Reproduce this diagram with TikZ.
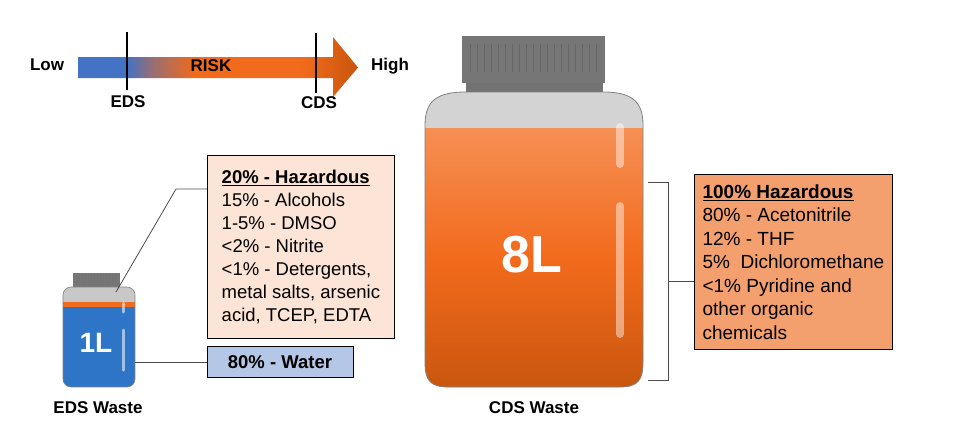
\documentclass[tikz,border=0pt]{standalone}
\usepackage{fontspec}
\setmainfont{Liberation Sans}
\usetikzlibrary{calc}
\definecolor{myblue}{HTML}{4472C4}
\definecolor{myorange}{HTML}{F26A1B}
\definecolor{darkor}{HTML}{C8560F}
\definecolor{lightpeach}{HTML}{FCE4D6}
\definecolor{waterblue}{HTML}{B4C7E7}
\definecolor{boxorange}{HTML}{F4A06E}
\definecolor{capgray}{HTML}{767676}
\definecolor{glass}{HTML}{C8C8C8}
\definecolor{liqblue}{HTML}{2E75C8}
\pgfdeclarehorizontalshading{riskshade}{100bp}{color(0bp)=(myblue); color(33.75bp)=(myblue); color(38.5bp)=(myblue!50!myorange); color(46bp)=(myorange); color(65bp)=(myorange); color(75bp)=(darkor); color(100bp)=(darkor)}
\tikzset{
  lbl/.style={font=\fontsize{17}{19}\selectfont\bfseries, inner sep=0},
  txtbox/.style={draw=black, line width=0.8pt, align=left, anchor=north west, inner sep=5pt, font=\fontsize{18.5}{23}\selectfont},
  conn/.style={draw=black!70, line width=0.8pt},
  hl/.style={white, opacity=0.55, line width=5pt, line cap=round}
}
\begin{document}
\begin{tikzpicture}[x=1pt,y=-1pt]
\useasboundingbox (0,0) rectangle (960,445);
% risk arrow
\shade[shading=riskshade] (78,57) -- (333,57) -- (333,37) -- (358,67.5) -- (333,97) -- (333,78) -- (78,78) -- cycle;
\draw[line width=2pt] (127,32) -- (127,90);
\draw[line width=2pt] (316,33) -- (316,93);
\node[lbl] (low) at (47,65) {Low};
\node[lbl] (risk) at (211,66) {RISK};
\node[lbl] (high) at (390,66) {High};
\node[lbl] (eds) at (128,102) {EDS};
\node[lbl] (cds) at (319,103) {CDS};
% small bottle
\fill[capgray] (73,273) rectangle (120,287);
\foreach \x in {76,79,...,116} \draw[black!55, line width=0.6pt] (\x,275) -- (\x,284);
\begin{scope}
\clip[rounded corners=8pt] (63,287) rectangle (135,387);
\fill[glass] (63,287) rectangle (135,302);
\fill[myorange] (63,302) rectangle (135,307);
\fill[liqblue] (63,307) rectangle (135,387);
\end{scope}
\draw[black!50, line width=0.6pt, rounded corners=8pt] (63,287) rectangle (135,387);
\draw[hl, line width=3pt] (123,303) -- (123,312);
\draw[hl, line width=3pt] (123,330) -- (123,370);
\node[font=\fontsize{28}{30}\selectfont\bfseries, white] (oneL) at (96,343) {1L};
\coordinate (sbtop) at (116,292);
\coordinate (sbside) at (135,362);
\node[lbl] (edsw) at (98,408) {EDS Waste};
% left boxes
\node[txtbox, fill=lightpeach, minimum width=187pt, minimum height=183pt] (haz) at (207,155) {\textbf{\underline{20\% - Hazardous}}\\15\% - Alcohols\\1-5\% - DMSO\\<2\% - Nitrite\\<1\% - Detergents,\\metal salts, arsenic\\acid, TCEP, EDTA};
\node[draw=black, line width=0.8pt, fill=waterblue, minimum width=146pt, minimum height=31pt, inner sep=0, font=\fontsize{18.5}{20}\selectfont\bfseries] (water) at (280,362) {80\% - Water};
\draw[conn] (sbtop) -- (176,189) -- (haz.west |- 0,189);
\draw[conn] (sbside) -- (water.west);
% big bottle
\fill[capgray] (462,36) rectangle (605,83);
\foreach \x in {470,477,...,596} \draw[black!60, line width=0.8pt] (\x,44) -- (\x,72);
\fill[black!55] (466,83) rectangle (603,92);
\begin{scope}
\clip (466,92) -- (603,92) .. controls (630,92) and (643,100) .. (643,125) -- (643,362) .. controls (643,380) and (638,387) .. (620,387) -- (448,387) .. controls (430,387) and (425,380) .. (425,362) -- (425,125) .. controls (425,100) and (438,92) .. (466,92) -- cycle;
\fill[glass!80!white] (420,88) rectangle (650,128);
\shade[top color=myorange!75!white, bottom color=darkor, middle color=myorange] (420,128) rectangle (650,392);
\end{scope}
\draw[black!50, line width=0.8pt] (466,92) -- (603,92) .. controls (630,92) and (643,100) .. (643,125) -- (643,362) .. controls (643,380) and (638,387) .. (620,387) -- (448,387) .. controls (430,387) and (425,380) .. (425,362) -- (425,125) .. controls (425,100) and (438,92) .. (466,92) -- cycle;
\draw[hl, line width=8pt, opacity=0.45] (620,127) -- (620,164);
\draw[hl, line width=8pt, opacity=0.45] (620,206) -- (620,334);
\node[font=\fontsize{52}{54}\selectfont\bfseries, white] (eightL) at (532,255) {8L};
\node[lbl] (cdsw) at (534,408) {CDS Waste};
% bracket
\coordinate (bt) at (648,182);
\coordinate (bb) at (648,380);
\draw[conn, line width=1pt] (bt) -- (668,182) -- (668,380) -- (bb);
\node[txtbox, fill=boxorange, minimum width=198pt, minimum height=175pt, font=\fontsize{19}{23.5}\selectfont] (haz2) at (694,174) {\textbf{\underline{100\% Hazardous}}\\80\% - Acetonitrile\\12\% - THF\\5\%\ \ Dichloromethane\\<1\% Pyridine and\\other organic\\chemicals};
\draw[conn, line width=1pt] (668,281) -- (haz2.west |- 0,281);
\end{tikzpicture}
\end{document}
